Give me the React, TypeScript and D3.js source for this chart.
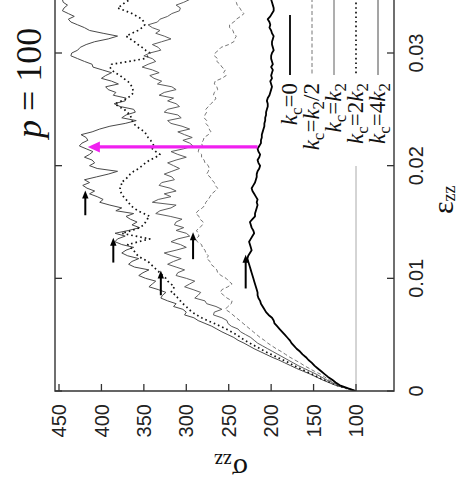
import React from "react";
import * as d3 from "d3";

const W = 461;
const H = 487;

// Axial strain grid (sampling step of every stress series)
const STRAIN_STEP = 0.00025;

// Axial stress sigma_zz for each contact-cohesion case
const stressKc0 = [
  100, 110, 119, 124, 128, 133, 137, 141, 145, 149, 152, 156, 159, 163, 166, 170, 173, 176, 178, 181,
  184, 187, 190, 193, 196, 197, 199, 203, 206, 208, 210, 212, 213, 215, 216, 216, 217, 218, 219, 220,
  221, 222, 223, 224, 225, 226, 227, 228, 227, 225, 223, 224, 225, 226, 224, 222, 220, 221, 223, 224,
  225, 222, 219, 219, 218, 217, 216, 217, 216, 218, 220, 222, 223, 221, 219, 218, 217, 217, 216, 214,
  213, 215, 216, 214, 213, 215, 216, 214, 212, 212, 211, 211, 210, 209, 208, 208, 207, 207, 206, 206,
  205, 204, 204, 205, 204, 202, 201, 200, 199, 200, 201, 199, 200, 199, 198, 200, 198, 199, 200, 200,
  199, 197, 198, 199, 199, 198, 197, 199, 200, 202, 201, 202, 204, 201, 199, 197, 197, 198, 199, 200,
  201,
];
const stressKcHalf = [
  100, 110, 120, 126, 132, 137, 142, 149, 155, 161, 166, 172, 178, 183, 188, 194, 199, 204, 208, 213,
  217, 221, 225, 229, 233, 237, 241, 245, 249, 254, 251, 247, 246, 252, 256, 260, 258, 251, 246, 250,
  253, 259, 263, 264, 267, 271, 272, 276, 274, 277, 278, 281, 282, 287, 289, 285, 286, 288, 284, 281,
  280, 284, 285, 289, 286, 281, 278, 277, 274, 272, 270, 266, 263, 266, 267, 270, 272, 276, 274, 273,
  274, 278, 279, 282, 282, 286, 285, 281, 282, 280, 279, 274, 271, 273, 274, 277, 276, 279, 278, 276,
  277, 274, 271, 267, 265, 268, 267, 263, 264, 267, 266, 258, 253, 256, 254, 258, 260, 264, 263, 267,
  266, 262, 259, 250, 244, 243, 241, 244, 245, 249, 249, 244, 241, 236, 232, 235, 237, 240, 241, 244,
  243,
];
const stressKcOne = [
  100, 111, 121, 128, 135, 141, 147, 154, 161, 168, 174, 180, 186, 192, 198, 204, 210, 216, 220, 224,
  230, 236, 239, 247, 251, 252, 258, 268, 267, 258, 265, 276, 278, 290, 286, 283, 292, 302, 296, 290,
  300, 312, 310, 302, 312, 322, 315, 306, 317, 326, 312, 300, 307, 318, 310, 296, 300, 312, 303, 314,
  312, 305, 319, 336, 331, 318, 312, 340, 333, 318, 326, 312, 319, 332, 329, 314, 317, 326, 317, 308,
  315, 322, 312, 300, 310, 318, 303, 292, 296, 304, 293, 302, 310, 296, 305, 318, 322, 306, 310, 326,
  322, 308, 312, 322, 315, 332, 326, 312, 317, 334, 329, 338, 343, 332, 340, 352, 345, 336, 340, 350,
  343, 330, 333, 340, 329, 318, 326, 336, 331, 340, 345, 334, 331, 322, 317, 308, 307, 312, 303, 296,
  300,
];
const stressKcTwo = [
  100, 112, 122, 130, 138, 145, 152, 159, 166, 173, 179, 186, 193, 200, 207, 213, 219, 225, 231, 236,
  241, 247, 253, 260, 267, 275, 282, 288, 293, 297, 300, 304, 307, 310, 312, 318, 316, 314, 318, 322,
  324, 328, 331, 335, 338, 342, 345, 352, 357, 360, 362, 366, 369, 356, 343, 360, 376, 364, 355, 350,
  348, 346, 343, 350, 357, 362, 366, 368, 371, 374, 376, 378, 378, 376, 377, 372, 369, 366, 362, 356,
  352, 348, 343, 336, 331, 336, 340, 338, 340, 342, 345, 347, 349, 354, 359, 362, 364, 365, 366, 370,
  373, 380, 384, 376, 369, 365, 362, 363, 364, 366, 369, 374, 378, 384, 388, 390, 388, 368, 349, 345,
  343, 348, 352, 357, 361, 366, 371, 364, 357, 352, 349, 350, 352, 358, 364, 372, 381, 376, 372, 366,
  361,
];
const stressKcFour = [
  100, 112, 124, 132, 140, 147, 154, 162, 170, 177, 184, 191, 199, 206, 213, 220, 226, 232, 239, 244,
  251, 258, 264, 270, 278, 286, 291, 302, 300, 304, 315, 312, 322, 330, 328, 324, 333, 344, 340, 336,
  348, 356, 351, 344, 361, 368, 364, 356, 369, 376, 371, 362, 376, 384, 381, 372, 384, 368, 355, 364,
  358, 366, 371, 362, 383, 376, 390, 402, 398, 405, 414, 408, 417, 422, 414, 420, 406, 392, 381, 405,
  414, 408, 411, 420, 414, 410, 418, 426, 423, 416, 418, 424, 411, 402, 390, 372, 359, 376, 371, 360,
  362, 378, 385, 372, 371, 386, 383, 392, 395, 380, 388, 400, 395, 388, 399, 410, 411, 420, 428, 436,
  435, 428, 425, 418, 408, 392, 381, 398, 414, 420, 428, 436, 439, 432, 439, 446, 444, 440, 445, 446,
  444,
];

// Tick values
const stressTicks = [100, 150, 200, 250, 300, 350, 400, 450];
const strainTicks = [0, 0.01, 0.02, 0.03];
const strainTickLabels = ["0", "0.01", "0.02", "0.03"];

// Peak markers: stress level, strain at arrow tail and tip
const peakSigma = [419, 386, 330, 292, 230];
const peakTail = [0.0156, 0.0114, 0.0085, 0.0117, 0.0091];
const peakTip = [0.0178, 0.0136, 0.0107, 0.0141, 0.0121];

// Highlight arrow (stress from, stress to, strain)
const highlightFrom = 216;
const highlightTo = 416;
const highlightStrain = 0.02166;

const confiningPressure = 100;

const series = [
  { values: stressKcFour, stroke: "#4a4a4a", width: 1, dash: null },
  { values: stressKcTwo, stroke: "#111", width: 1.7, dash: "1.6,3" },
  { values: stressKcOne, stroke: "#5e5e5e", width: 1, dash: null },
  { values: stressKcHalf, stroke: "#777", width: 1, dash: "4,2.5" },
  { values: stressKc0, stroke: "#000", width: 1.8, dash: null },
];

const legend = [
  { parts: [["k", "i"], ["c", "s"], ["=0", "n"]], stroke: "#000", width: 1.8, dash: null, top: 15 },
  { parts: [["k", "i"], ["c", "s"], ["=", "n"], ["k", "i"], ["2", "s"], ["/2", "n"]], stroke: "#777", width: 1, dash: "4,2.5", top: -2 },
  { parts: [["k", "i"], ["c", "s"], ["=", "n"], ["k", "i"], ["2", "s"]], stroke: "#5e5e5e", width: 1, dash: null, top: -2 },
  { parts: [["k", "i"], ["c", "s"], ["=2", "n"], ["k", "i"], ["2", "s"]], stroke: "#111", width: 1.7, dash: "1.6,3", top: -2 },
  { parts: [["k", "i"], ["c", "s"], ["=4", "n"], ["k", "i"], ["2", "s"]], stroke: "#4a4a4a", width: 1, dash: null, top: -2 },
];

const FRAME_L = 55;
const FRAME_R = 394;
const FRAME_B = 391;

const xS = d3.scaleLinear().domain([100, 450]).range([356, 59]);
const yS = d3.scaleLinear().domain([0, 0.03]).range([391, 53]);

const sans = "'Liberation Sans', Arial, Helvetica, sans-serif";
const serif = "'Liberation Serif', 'Times New Roman', serif";

function LegendLabel({ parts, x, y }: { parts: string[][]; x: number; y: number }) {
  let shift = 0;
  return (
    <text
      transform={`translate(${x},${y}) rotate(-90)`}
      textAnchor="end"
      fontFamily={serif}
      fontSize={23}
      fill="#111"
    >
      {parts.map(([t, kind], i) => {
        let dy = 0;
        if (kind === "s" && shift === 0) {
          dy = 5;
          shift = 5;
        } else if (kind !== "s" && shift !== 0) {
          dy = -5;
          shift = 0;
        }
        return (
          <tspan
            key={i}
            dy={dy}
            fontStyle={kind === "i" ? "italic" : "normal"}
            fontSize={kind === "s" ? 17 : 23}
          >
            {t}
          </tspan>
        );
      })}
    </text>
  );
}

export default function App() {
  const line = d3
    .line<number>()
    .x((v) => xS(v))
    .y((_, i) => yS(i * STRAIN_STEP));

  const legendX0 = 290;
  const legendStep = 22;

  const hy = yS(highlightStrain);
  const hx0 = xS(highlightFrom);
  const hx1 = xS(highlightTo);

  return (
    <svg
      width={W}
      height={H}
      viewBox={`0 0 ${W} ${H}`}
      style={{ position: "absolute", left: 0, top: 0, background: "#fff" }}
    >
      <defs>
        <clipPath id="plotArea">
          <rect x={FRAME_L} y={-20} width={FRAME_R - FRAME_L} height={FRAME_B + 20} />
        </clipPath>
      </defs>
      <rect x={0} y={0} width={W} height={H} fill="#fff" />

      {/* confining pressure reference */}
      <line
        x1={xS(confiningPressure)}
        x2={xS(confiningPressure)}
        y1={FRAME_B}
        y2={-10}
        stroke="#aaa"
        strokeWidth={1}
      />

      <g clipPath="url(#plotArea)">
        {series.map((s, i) => (
          <path
            key={i}
            d={line(s.values) || ""}
            fill="none"
            stroke={s.stroke}
            strokeWidth={s.width}
            strokeDasharray={s.dash || undefined}
            strokeLinejoin="round"
          />
        ))}
      </g>

      {/* peak arrows */}
      {peakSigma.map((s, i) => {
        const x = xS(s);
        const yt = yS(peakTip[i]);
        const yb = yS(peakTail[i]);
        return (
          <g key={i}>
            <line x1={x} x2={x} y1={yb} y2={yt + 6} stroke="#000" strokeWidth={2} />
            <path d={`M${x},${yt} L${x - 3.2},${yt + 8} L${x + 3.2},${yt + 8} Z`} fill="#000" />
          </g>
        );
      })}

      {/* highlight arrow */}
      <line x1={hx0} x2={hx1 + 9} y1={hy} y2={hy} stroke="#f020f0" strokeWidth={3.2} />
      <path d={`M${hx1},${hy} L${hx1 + 12},${hy - 5.5} L${hx1 + 12},${hy + 5.5} Z`} fill="#f020f0" />

      {/* legend box */}
      <rect x={280} y={-10} width={FRAME_R - 281} height={176} fill="#fff" />
      {legend.map((l, i) => {
        const x = legendX0 + i * legendStep;
        return (
          <g key={i}>
            <line
              x1={x}
              x2={x}
              y1={l.top}
              y2={75}
              stroke={l.stroke}
              strokeWidth={l.width}
              strokeDasharray={l.dash || undefined}
            />
            <LegendLabel parts={l.parts} x={x + 7} y={83} />
          </g>
        );
      })}

      {/* frame */}
      <path
        d={`M${FRAME_L},-5 L${FRAME_L},${FRAME_B} L${FRAME_R},${FRAME_B} L${FRAME_R},-5`}
        fill="none"
        stroke="#333"
        strokeWidth={1.4}
      />

      {/* stress axis */}
      {stressTicks.map((t) => (
        <g key={t}>
          <line x1={xS(t)} x2={xS(t)} y1={FRAME_B} y2={FRAME_B - 7} stroke="#333" strokeWidth={1.3} />
          <text
            transform={`translate(${xS(t)},404) rotate(-90)`}
            textAnchor="end"
            dy="0.36em"
            fontFamily={sans}
            fontSize={20}
            fill="#222"
          >
            {t}
          </text>
        </g>
      ))}

      {/* strain axis */}
      {strainTicks.map((t, i) => (
        <g key={t}>
          <line x1={FRAME_R} x2={FRAME_R - 7} y1={yS(t)} y2={yS(t)} stroke="#333" strokeWidth={1.3} />
          <line x1={FRAME_L} x2={FRAME_L + 7} y1={yS(t)} y2={yS(t)} stroke="#333" strokeWidth={1.3} />
          <text
            transform={`translate(416,${yS(t)}) rotate(-90)`}
            textAnchor="middle"
            dy="0.36em"
            fontFamily={sans}
            fontSize={20}
            fill="#222"
          >
            {strainTickLabels[i]}
          </text>
        </g>
      ))}

      {/* axis titles */}
      <text transform="translate(453,214) rotate(-90)" fontFamily={serif} fontSize={30} fill="#111">
        ε<tspan fontSize={18} dy={2}>zz</tspan>
      </text>
      <text transform="translate(248,459) rotate(180)" fontFamily={serif} fontSize={30} fill="#111">
        σ<tspan fontSize={20} dy={5}>zz</tspan>
      </text>

      {/* pressure annotation */}
      <text transform="translate(41,138) rotate(-90)" fontFamily={serif} fontSize={36} fill="#111">
        <tspan fontStyle="italic">p</tspan> = 100
      </text>
    </svg>
  );
}
